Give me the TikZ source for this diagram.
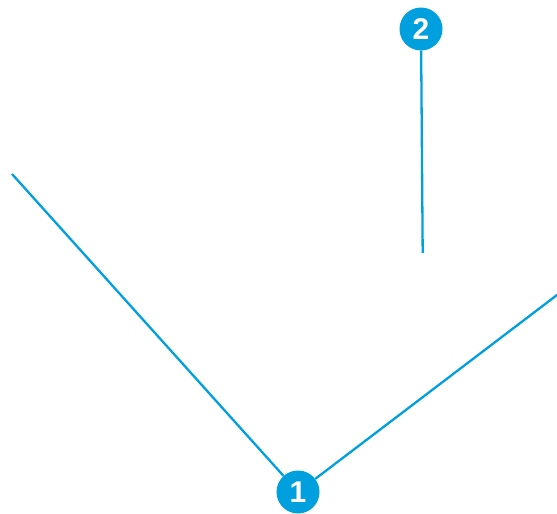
\documentclass[tikz,border=0pt]{standalone}
\usepackage{fontspec}
\setmainfont{Liberation Sans}
\definecolor{callout}{RGB}{0,160,223}
\begin{document}
\begin{tikzpicture}[x=1pt,y=-1pt,
  badge/.style={circle,fill=callout,text=white,inner sep=0pt,minimum size=43pt,font=\bfseries\fontsize{30}{30}\selectfont},
  lead/.style={draw=callout,line width=2.3pt}]
\useasboundingbox (0,0) rectangle (557,514);
\coordinate (e1) at (12,174);
\coordinate (e2) at (559,293.5);
\coordinate (e3) at (422.7,253);
\node[badge] (b1) at (298,492) {1};
\node[badge] (b2) at (421,29) {2};
\draw[lead] (e1) -- (b1);
\draw[lead] (e2) -- (b1);
\draw[lead] (b2) -- (e3);
\end{tikzpicture}
\end{document}
